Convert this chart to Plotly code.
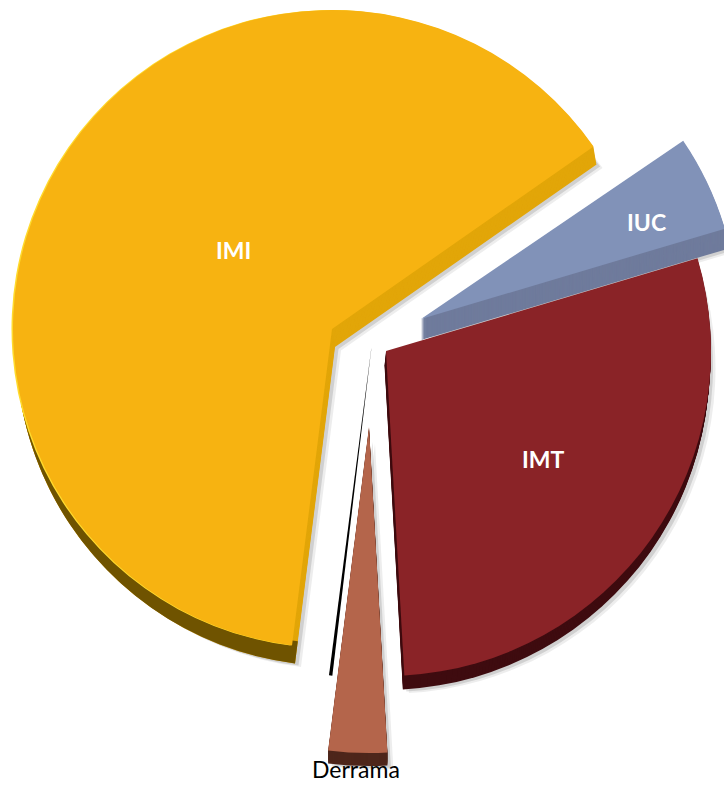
import plotly.graph_objects as go

# --- data (percent shares) ---
categories = ["IUC", "IMT", "Derrama", "IMI"]
values = [4.9, 28.7, 2.9, 63.3]
first_slice_angle = 55.8

# --- styling / placement (pixel geometry of each exploded slice) ---
W, H = 760, 810
apex = {"IUC": (421, 319), "IMT": (386, 351), "Derrama": (369, 427), "IMI": (332, 329)}
radius = {"IUC": 317, "IMT": 325, "Derrama": 326, "IMI": 319}
top_color = {"IUC": "#8192b8", "IMT": "#8a2327", "Derrama": "#b4654b", "IMI": "#f7b311"}
side_color = {"IUC": "#6f7b9c", "IMT": "#3f0c10", "Derrama": "#4e261b", "IMI": "#e2a609"}
side_shift = {"IUC": (0, 21), "IMT": (-1.5, 14), "Derrama": (0, 13), "IMI": (3, 18)}
label_pos = {"IUC": (646, 222), "IMT": (543, 459), "IMI": (233, 250)}
STEP_PX = 1.0

starts = {}
a = first_slice_angle
for c, v in zip(categories, values):
    starts[c] = a
    a += v * 3.6


def wedge(cx, cy, r, share, start, color, hole=0.0):
    return go.Pie(
        values=[share, 100 - share],
        marker=dict(colors=[color, "rgba(0,0,0,0)"], line=dict(width=0)),
        rotation=start % 360,
        direction="clockwise",
        sort=False,
        hole=hole,
        textinfo="none",
        hoverinfo="skip",
        showlegend=False,
        domain=dict(
            x=[(cx - r) / W, (cx + r) / W],
            y=[1 - (cy + r) / H, 1 - (cy - r) / H],
        ),
    )


fig = go.Figure()
share = dict(zip(categories, values))

# soft drop shadows
for c in categories:
    (ax, ay), r = apex[c], radius[c]
    sx, sy = side_shift[c]
    for off, alpha in ((6, 0.07), (3.5, 0.12)):
        fig.add_trace(wedge(ax + sx + off, ay + sy + off * 0.6, r, share[c], starts[c], f"rgba(0,0,0,{alpha})"))

# sides: the slice swept downwards to give it thickness
for c in categories:
    (ax, ay), r = apex[c], radius[c]
    sx, sy = side_shift[c]
    steps = int(sy / STEP_PX)
    for i in range(steps, 0, -1):
        t = i / steps
        fig.add_trace(wedge(ax + sx * t, ay + sy * t, r, share[c], starts[c], side_color[c]))

# dark outer rim of the large slice
(ax, ay), r = apex["IMI"], radius["IMI"]
sx, sy = side_shift["IMI"]
fig.add_trace(wedge(ax + sx, ay + sy, r, 31, starts["IMI"], "#6f5300", hole=0.93))

# stray black sliver beside the small slice
fig.add_trace(wedge(372, 343, 335, 0.16, 186.8, "#000000"))

# bright rim on the left of the large slice
fig.add_trace(wedge(ax - 1.5, ay, r, share["IMI"], starts["IMI"], "#ffdb2e"))

# top faces
for c in categories:
    (ax, ay), r = apex[c], radius[c]
    fig.add_trace(wedge(ax, ay, r, share[c], starts[c], top_color[c]))

annotations = [
    dict(x=x / W, y=1 - y / H, xref="paper", yref="paper", text=f"<b>{c}</b>", showarrow=False,
         xanchor="center", yanchor="middle",
         font=dict(family="Lato", size=23, color="white"))
    for c, (x, y) in label_pos.items()
]
annotations.append(
    dict(x=356 / W, y=1 - 769 / H, xref="paper", yref="paper", text="Derrama", showarrow=False,
         xanchor="center", yanchor="middle",
         font=dict(family="Lato", size=23, color="#000000"))
)

fig.update_layout(
    width=W, height=H, autosize=False,
    margin=dict(l=0, r=0, t=0, b=0),
    paper_bgcolor="white",
    annotations=annotations,
)

fig.write_html(
    "out.html",
    config={"displayModeBar": False},
    post_script="document.body.style.margin='0';document.body.style.overflow='hidden';"
                "document.documentElement.style.overflow='hidden';",
)
